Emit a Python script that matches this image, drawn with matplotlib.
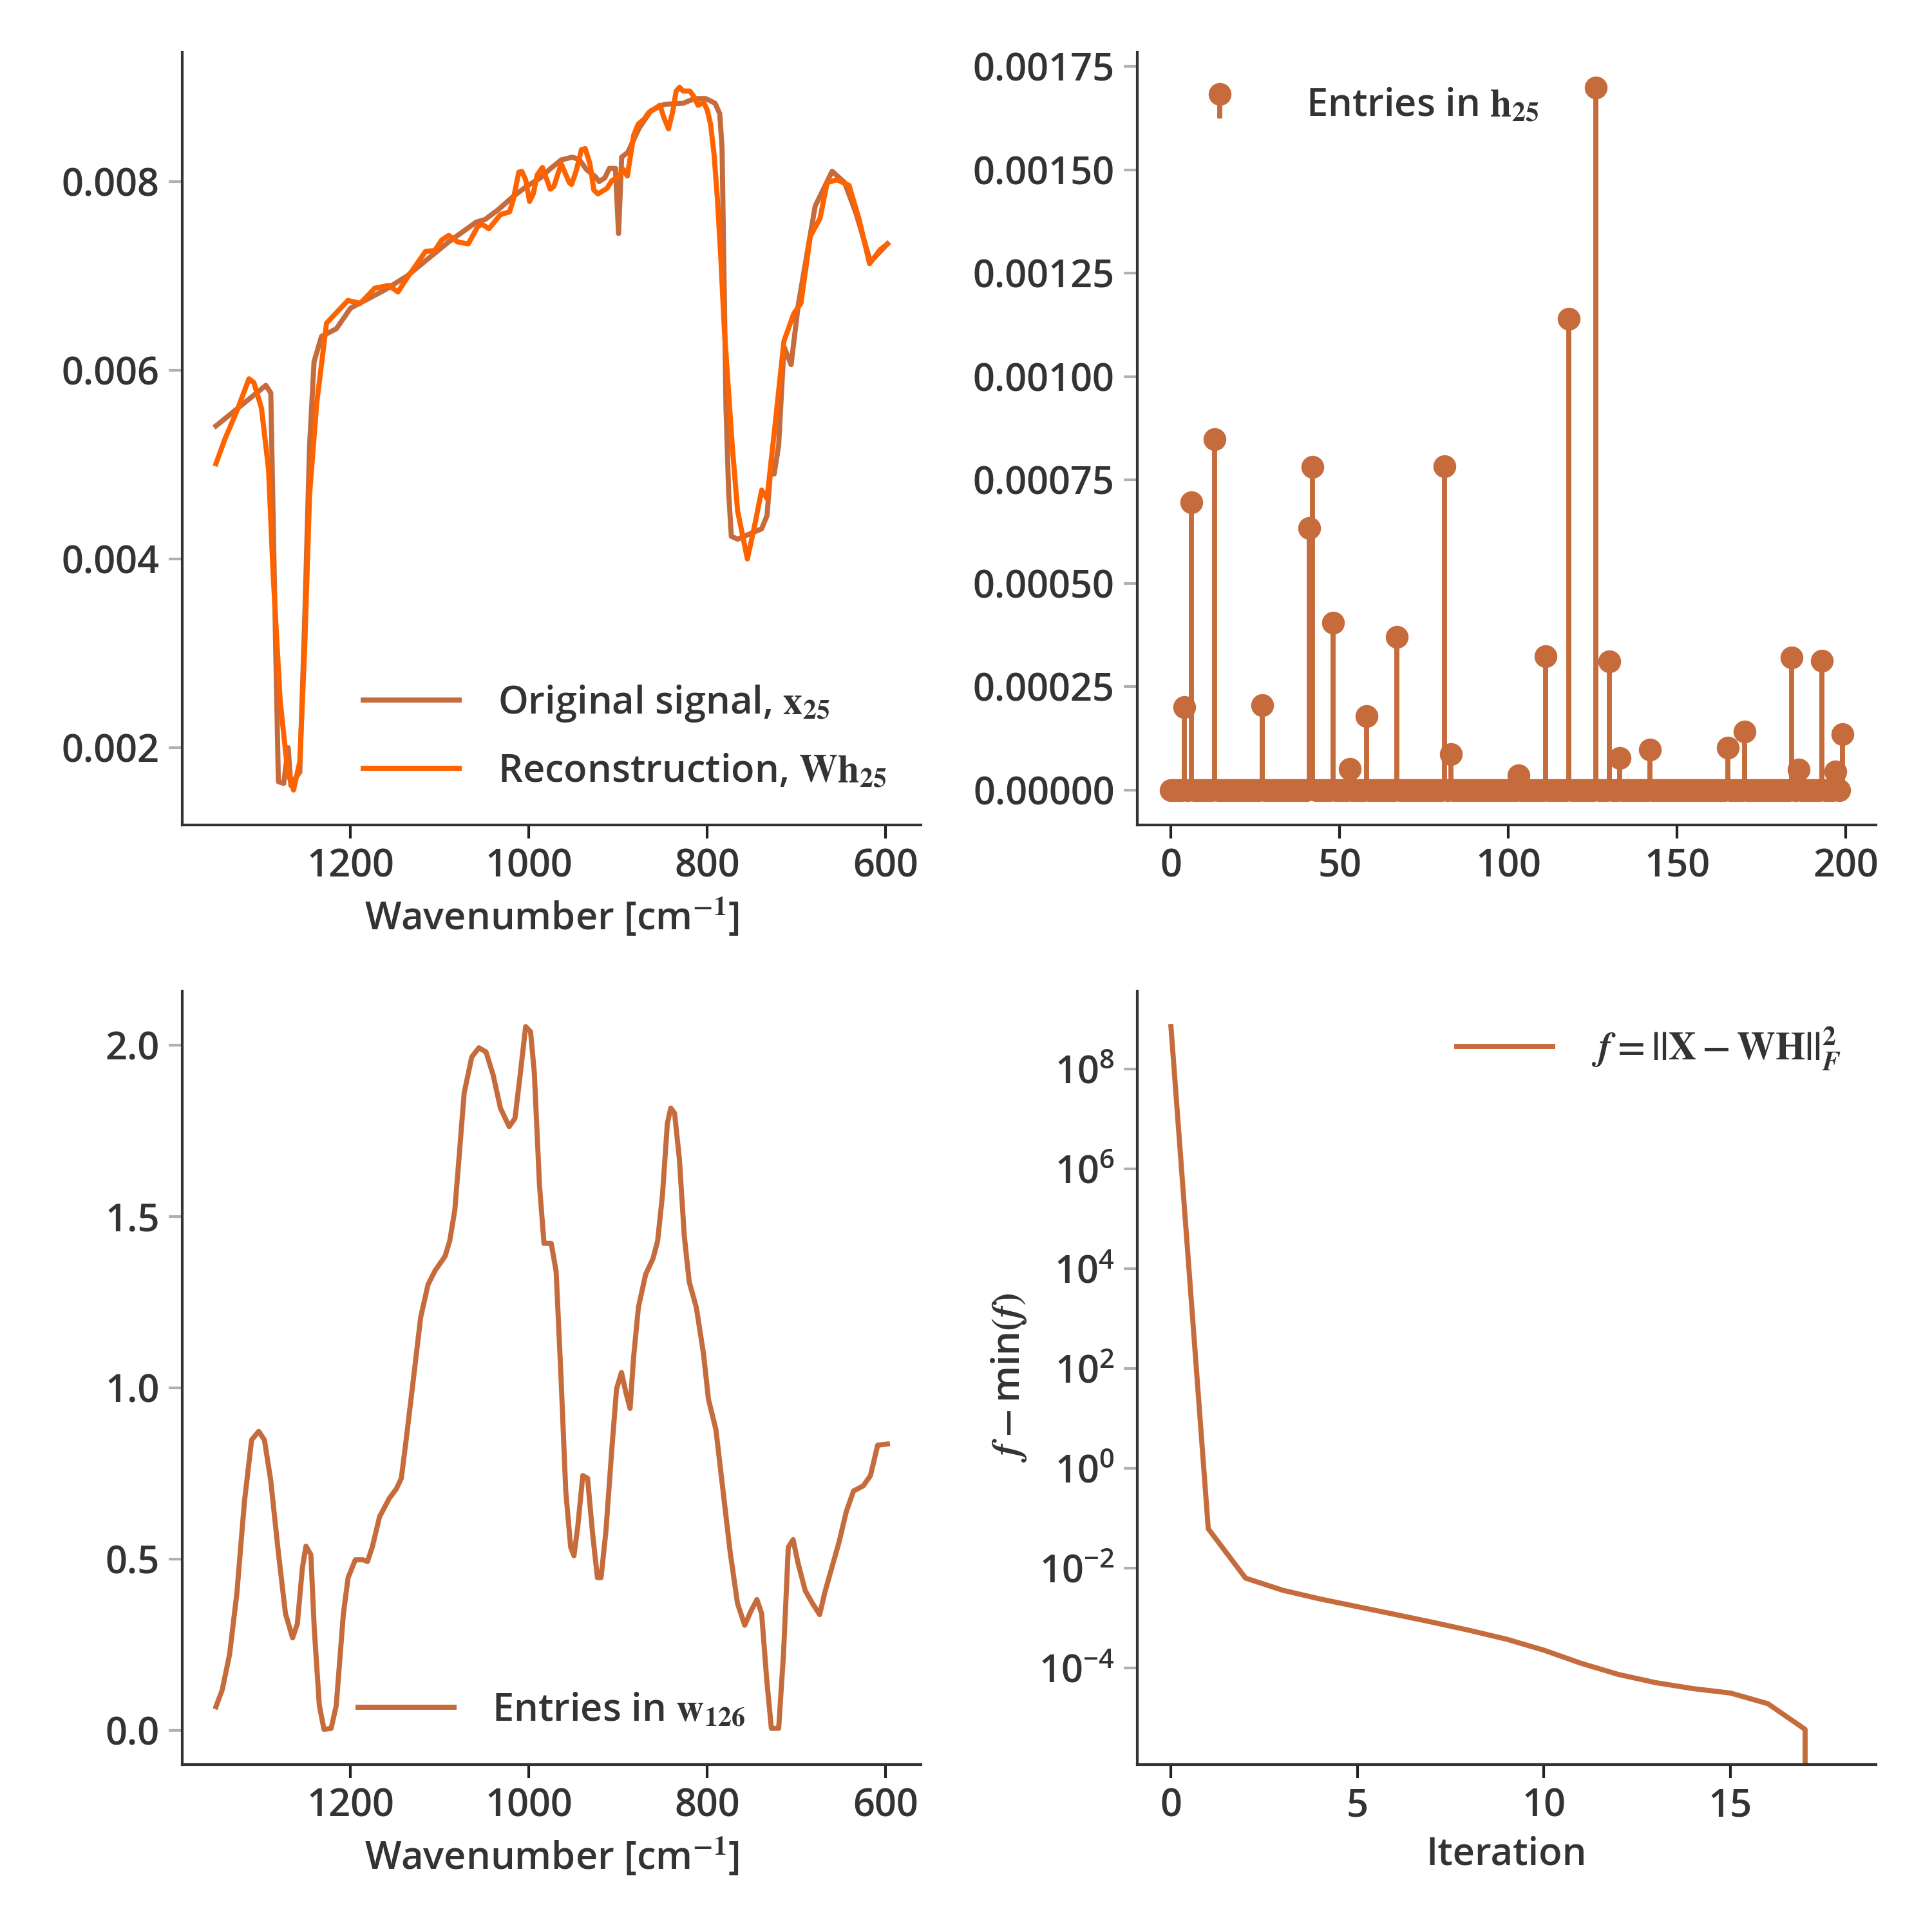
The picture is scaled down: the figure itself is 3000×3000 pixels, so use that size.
import numpy as np
import matplotlib
matplotlib.use("Agg")
import matplotlib.pyplot as plt
from matplotlib.lines import Line2D
from matplotlib.legend_handler import HandlerBase
from matplotlib.ticker import FormatStrFormatter, NullLocator

plt.rcParams['font.family'] = ['Open Sans', 'DejaVu Sans']
plt.rcParams['font.weight'] = 'semibold'
plt.rcParams['axes.labelweight'] = 'semibold'
plt.rcParams['mathtext.fontset'] = 'stix'
plt.rcParams['font.size'] = 14.3
plt.rcParams['text.color'] = '#333333'
plt.rcParams['axes.labelcolor'] = '#333333'
plt.rcParams['xtick.color'] = '#222222'
plt.rcParams['ytick.color'] = '#b0b0b0'
plt.rcParams['xtick.labelcolor'] = '#333333'
plt.rcParams['ytick.labelcolor'] = '#333333'
plt.rcParams['axes.edgecolor'] = '#333333'
plt.rcParams['axes.linewidth'] = 1.0
plt.rcParams['xtick.major.size'] = 5
plt.rcParams['ytick.major.size'] = 5
plt.rcParams['xtick.major.width'] = 1.0
plt.rcParams['ytick.major.width'] = 1.0
plt.rcParams['axes.spines.top'] = False
plt.rcParams['axes.spines.right'] = False

BROWN = '#c56b3c'
ORANGE = '#ff6300'
LW = 1.9

# --- original signal x25 ---
wn_orig = [1351, 1295, 1289.5, 1286, 1281, 1275, 1270, 1267, 1264, 1257, 1251, 1246, 1241, 1232.6,
           1216, 1200, 1162, 1136.6, 1110.9, 1090.2, 1059.3, 1049, 1033.5, 1018, 1002.6, 987.1,
           976.8, 963.9, 951, 943.3, 935.6, 925.3, 921.4, 914.9, 909.8, 903, 899.5, 896, 889.2,
           876.3, 863.4, 847.9, 827.3, 814.4, 801.5, 791.2, 786, 783.4, 779, 776, 773, 766, 739,
           733, 728, 725, 720, 714, 706, 698, 679, 660, 646, 633, 617, 606, 598]
x_orig = [0.00541, 0.00584, 0.00576, 0.0040, 0.00164, 0.00162, 0.00200, 0.00160, 0.00165, 0.00174,
          0.00350, 0.00520, 0.00609, 0.00636, 0.00644, 0.00666, 0.00685, 0.00700, 0.00720, 0.00736,
          0.00757, 0.00760, 0.00771, 0.00784, 0.00795, 0.00804, 0.00813, 0.00823, 0.00826, 0.00823,
          0.00813, 0.00805, 0.00800, 0.00804, 0.00814, 0.00814, 0.00745, 0.00826, 0.00831, 0.00857,
          0.00875, 0.00882, 0.00883, 0.00888, 0.00888, 0.00883, 0.00872, 0.00835, 0.00560, 0.00470,
          0.00424, 0.00421, 0.00432, 0.00446, 0.00506, 0.00490, 0.00520, 0.00625, 0.00606, 0.00669,
          0.00774, 0.00811, 0.00799, 0.00766, 0.00715, 0.00726, 0.00734]

# --- reconstruction W h25 ---
wn_rec = [1351, 1341, 1327.5, 1314, 1308.5, 1300, 1292, 1287, 1279, 1270.5, 1264, 1257, 1251.5,
          1246, 1238, 1227, 1216, 1203, 1189, 1173, 1157.2, 1146.9, 1136.6, 1116, 1105.6, 1097.9,
          1090, 1079.8, 1068, 1057.7, 1052.6, 1044.9, 1032, 1021.7, 1017.8, 1011.4, 1008, 1003.7,
          999.3, 995.2, 990.8, 984.9, 976.1, 972, 963.8, 954.8, 952.2, 947.1, 941.1, 936.8, 931.6,
          927.2, 922.6, 912.3, 907.1, 899.4, 894.2, 889.6, 882.6, 877.5, 871, 865.9, 853, 849.1,
          843.5, 838.8, 834.9, 831, 827.2, 819.5, 815.6, 810.4, 804, 800.1, 796.3, 792.4, 788.5,
          784.7, 780.8, 772, 766, 755, 747, 739, 733, 725, 714, 703, 695, 684.5, 673.6, 665.5,
          654.6, 641, 630, 618, 606, 598]
x_rec = [0.00501, 0.00527, 0.00557, 0.00591, 0.00587, 0.00560, 0.00495, 0.00386, 0.00250, 0.00174,
         0.00155, 0.00185, 0.00305, 0.00468, 0.00565, 0.00650, 0.00661, 0.00674, 0.00671, 0.00687,
         0.00690, 0.00683, 0.00698, 0.00726, 0.00727, 0.00738, 0.00743, 0.00736, 0.00734, 0.00752,
         0.00755, 0.00750, 0.00765, 0.00768, 0.00780, 0.00810, 0.00811, 0.00802, 0.00779, 0.00787,
         0.00807, 0.00815, 0.00792, 0.00795, 0.00819, 0.00799, 0.00797, 0.00811, 0.00834, 0.00835,
         0.00819, 0.00791, 0.00787, 0.00793, 0.00801, 0.00805, 0.00813, 0.00806, 0.00849, 0.00861,
         0.00866, 0.00873, 0.00881, 0.00869, 0.00856, 0.00874, 0.00896, 0.00900, 0.00896, 0.00896,
         0.00891, 0.00881, 0.00884, 0.00876, 0.00861, 0.00829, 0.00780, 0.00717, 0.00642, 0.00520,
         0.00451, 0.00400, 0.00435, 0.00473, 0.00464, 0.00533, 0.00631, 0.00660, 0.00671, 0.00742,
         0.00761, 0.00799, 0.00802, 0.00796, 0.00761, 0.00713, 0.00728, 0.00734]

# --- entries in h25 (200 entries, nonzero listed) ---
n_h = 200
h_idx = [4, 6, 13, 27, 41, 42, 48, 53, 58, 67, 81, 83, 103, 111, 118, 126, 130, 133, 142, 165,
         170, 184, 186, 193, 197, 199]
h_val = [0.000200, 0.000696, 0.000849, 0.000206, 0.000634, 0.000782, 0.000405, 0.0000506,
         0.000179, 0.000371, 0.000783, 0.0000876, 0.0000358, 0.000323, 0.00114, 0.00170,
         0.000312, 0.0000777, 0.0000974, 0.000102, 0.000142, 0.000321, 0.0000493, 0.000313,
         0.0000456, 0.000136]

# --- entries in w126 ---
wn_w = [1351, 1344, 1335.7, 1327.5, 1319, 1311, 1303, 1296.6, 1289.5, 1281, 1273, 1265, 1259.7,
        1254, 1250, 1244.5, 1240.7, 1235, 1229.8, 1221.7, 1216, 1208, 1202.7, 1194.6, 1186, 1181,
        1175.6, 1167.4, 1156.6, 1148.4, 1143, 1137.6, 1129.4, 1121.3, 1113, 1105, 1094, 1088.7,
        1083, 1077.9, 1072.5, 1064, 1056, 1048, 1040, 1031.8, 1022, 1015.5, 1010, 1003.5, 998,
        993.8, 988, 982.9, 974.8, 969.3, 964, 958.5, 953, 949.3, 945, 939.4, 934, 928.6, 923,
        918.9, 913.5, 906.9, 901.5, 896, 890.6, 886.3, 882.5, 877, 868.8, 860.7, 855.4, 850,
        844.5, 840.7, 836.4, 831, 825.5, 820, 812, 804, 798.4, 790, 782, 774, 765.8, 757.7,
        750.6, 744, 738.7, 733, 727.8, 719.6, 714.2, 708.8, 703.4, 698, 689.8, 681.7, 673.6, 668,
        660, 651.8, 643.7, 635.6, 624.7, 616.6, 608.5, 597.6]
w_126 = [0.069, 0.118, 0.222, 0.401, 0.669, 0.848, 0.873, 0.848, 0.729, 0.520, 0.341, 0.270, 0.311,
         0.475, 0.538, 0.513, 0.297, 0.073, 0.003, 0.006, 0.073, 0.341, 0.446, 0.498, 0.498, 0.493,
         0.535, 0.624, 0.677, 0.706, 0.736, 0.848, 1.027, 1.206, 1.302, 1.343, 1.384, 1.429, 1.519,
         1.683, 1.861, 1.966, 1.993, 1.981, 1.914, 1.817, 1.763, 1.787, 1.906, 2.055, 2.040, 1.921,
         1.593, 1.422, 1.422, 1.340, 1.042, 0.699, 0.535, 0.510, 0.595, 0.744, 0.736, 0.580, 0.446,
         0.446, 0.580, 0.818, 0.997, 1.045, 0.982, 0.940, 1.086, 1.235, 1.332, 1.377, 1.429, 1.563,
         1.772, 1.817, 1.802, 1.668, 1.444, 1.310, 1.235, 1.101, 0.967, 0.878, 0.699, 0.520, 0.371,
         0.307, 0.349, 0.382, 0.341, 0.148, 0.006, 0.006, 0.222, 0.535, 0.557, 0.490, 0.408, 0.371,
         0.338, 0.401, 0.475, 0.550, 0.639, 0.699, 0.714, 0.744, 0.833, 0.836]

# --- convergence f - min(f) ---
iterations = list(range(19))
f_minus_min = [7.1e8, 0.061, 0.00624, 0.00356, 0.00238, 0.00167, 0.00117, 0.000818, 0.00056,
               0.000372, 0.000224, 0.000122, 7.3e-5, 5.0e-5, 3.8e-5, 3.1e-5, 1.9e-5, 5.8e-6, 0.0]


class LollipopHandler(HandlerBase):
    # marker with a short stem underneath, like the reference legend
    def create_artists(self, legend, orig_handle, xdescent, ydescent, width, height,
                       fontsize, trans):
        cx = width / 2 - xdescent
        stem = Line2D([cx, cx], [-ydescent, height * 0.55 - ydescent], color=BROWN, lw=LW,
                      transform=trans)
        dot = Line2D([cx], [height * 0.8 - ydescent], marker='o', ms=7.5, color=BROWN,
                     linestyle='none', transform=trans)
        return [stem, dot]


fig, axes = plt.subplots(2, 2, figsize=(10, 10), dpi=300)
fig.subplots_adjust(left=0.0944, right=0.971, top=0.973, bottom=0.0867, wspace=0.293, hspace=0.215)
ax1, ax2, ax3, ax4 = axes.ravel()

leg_kw = dict(frameon=False, handlelength=2.5, handletextpad=1.0, labelspacing=0.75)

# top left
ax1.plot(wn_orig, x_orig, color=BROWN, lw=LW, label=r"Original signal, $\mathbf{x}_{25}$")
ax1.plot(wn_rec, x_rec, color=ORANGE, lw=LW, label=r"Reconstruction, $\mathbf{W}\mathbf{h}_{25}$")
ax1.invert_xaxis()
ax1.set_xticks([1200, 1000, 800, 600])
ax1.set_yticks([0.002, 0.004, 0.006, 0.008])
ax1.set_xlabel(r"Wavenumber [cm$^{-1}$]")
ax1.legend(loc='lower right', **leg_kw)

# top right
h = np.zeros(n_h)
h[h_idx] = h_val
ml, sl, bl = ax2.stem(np.arange(n_h), h, linefmt='-', markerfmt='o', basefmt='-')
plt.setp(ml, color=BROWN, markersize=7.5)
plt.setp(sl, color=BROWN, linewidth=LW)
plt.setp(bl, color=BROWN, linewidth=LW)
ax2.yaxis.set_major_formatter(FormatStrFormatter('%.5f'))
ax2.set_xticks([0, 50, 100, 150, 200])
proxy = Line2D([], [], color=BROWN)
ax2.legend([proxy], [r"Entries in $\mathbf{h}_{25}$"], loc='upper left',
           handler_map={proxy: LollipopHandler()}, **leg_kw)

# bottom left
ax3.plot(wn_w, w_126, color=BROWN, lw=LW, label=r"Entries in $\mathbf{w}_{126}$")
ax3.invert_xaxis()
ax3.set_xticks([1200, 1000, 800, 600])
ax3.set_yticks([0.0, 0.5, 1.0, 1.5, 2.0])
ax3.set_xlabel(r"Wavenumber [cm$^{-1}$]")
ax3.legend(loc='lower center', **leg_kw)

# bottom right
ax4.plot(iterations, f_minus_min, color=BROWN, lw=LW,
         label=r"$f = ||\mathbf{X} - \mathbf{WH}||_F^2$")
ax4.set_yscale('log')
ax4.set_yticks([10.0 ** k for k in range(-4, 10, 2)])
ax4.yaxis.set_minor_locator(NullLocator())
ax4.set_xticks([0, 5, 10, 15])
ax4.set_xlabel("Iteration")
ax4.set_ylabel(r"$f-$min$(f)$")
ax4.legend(loc='upper right', **leg_kw)

fig.savefig("out.png", dpi=300)
